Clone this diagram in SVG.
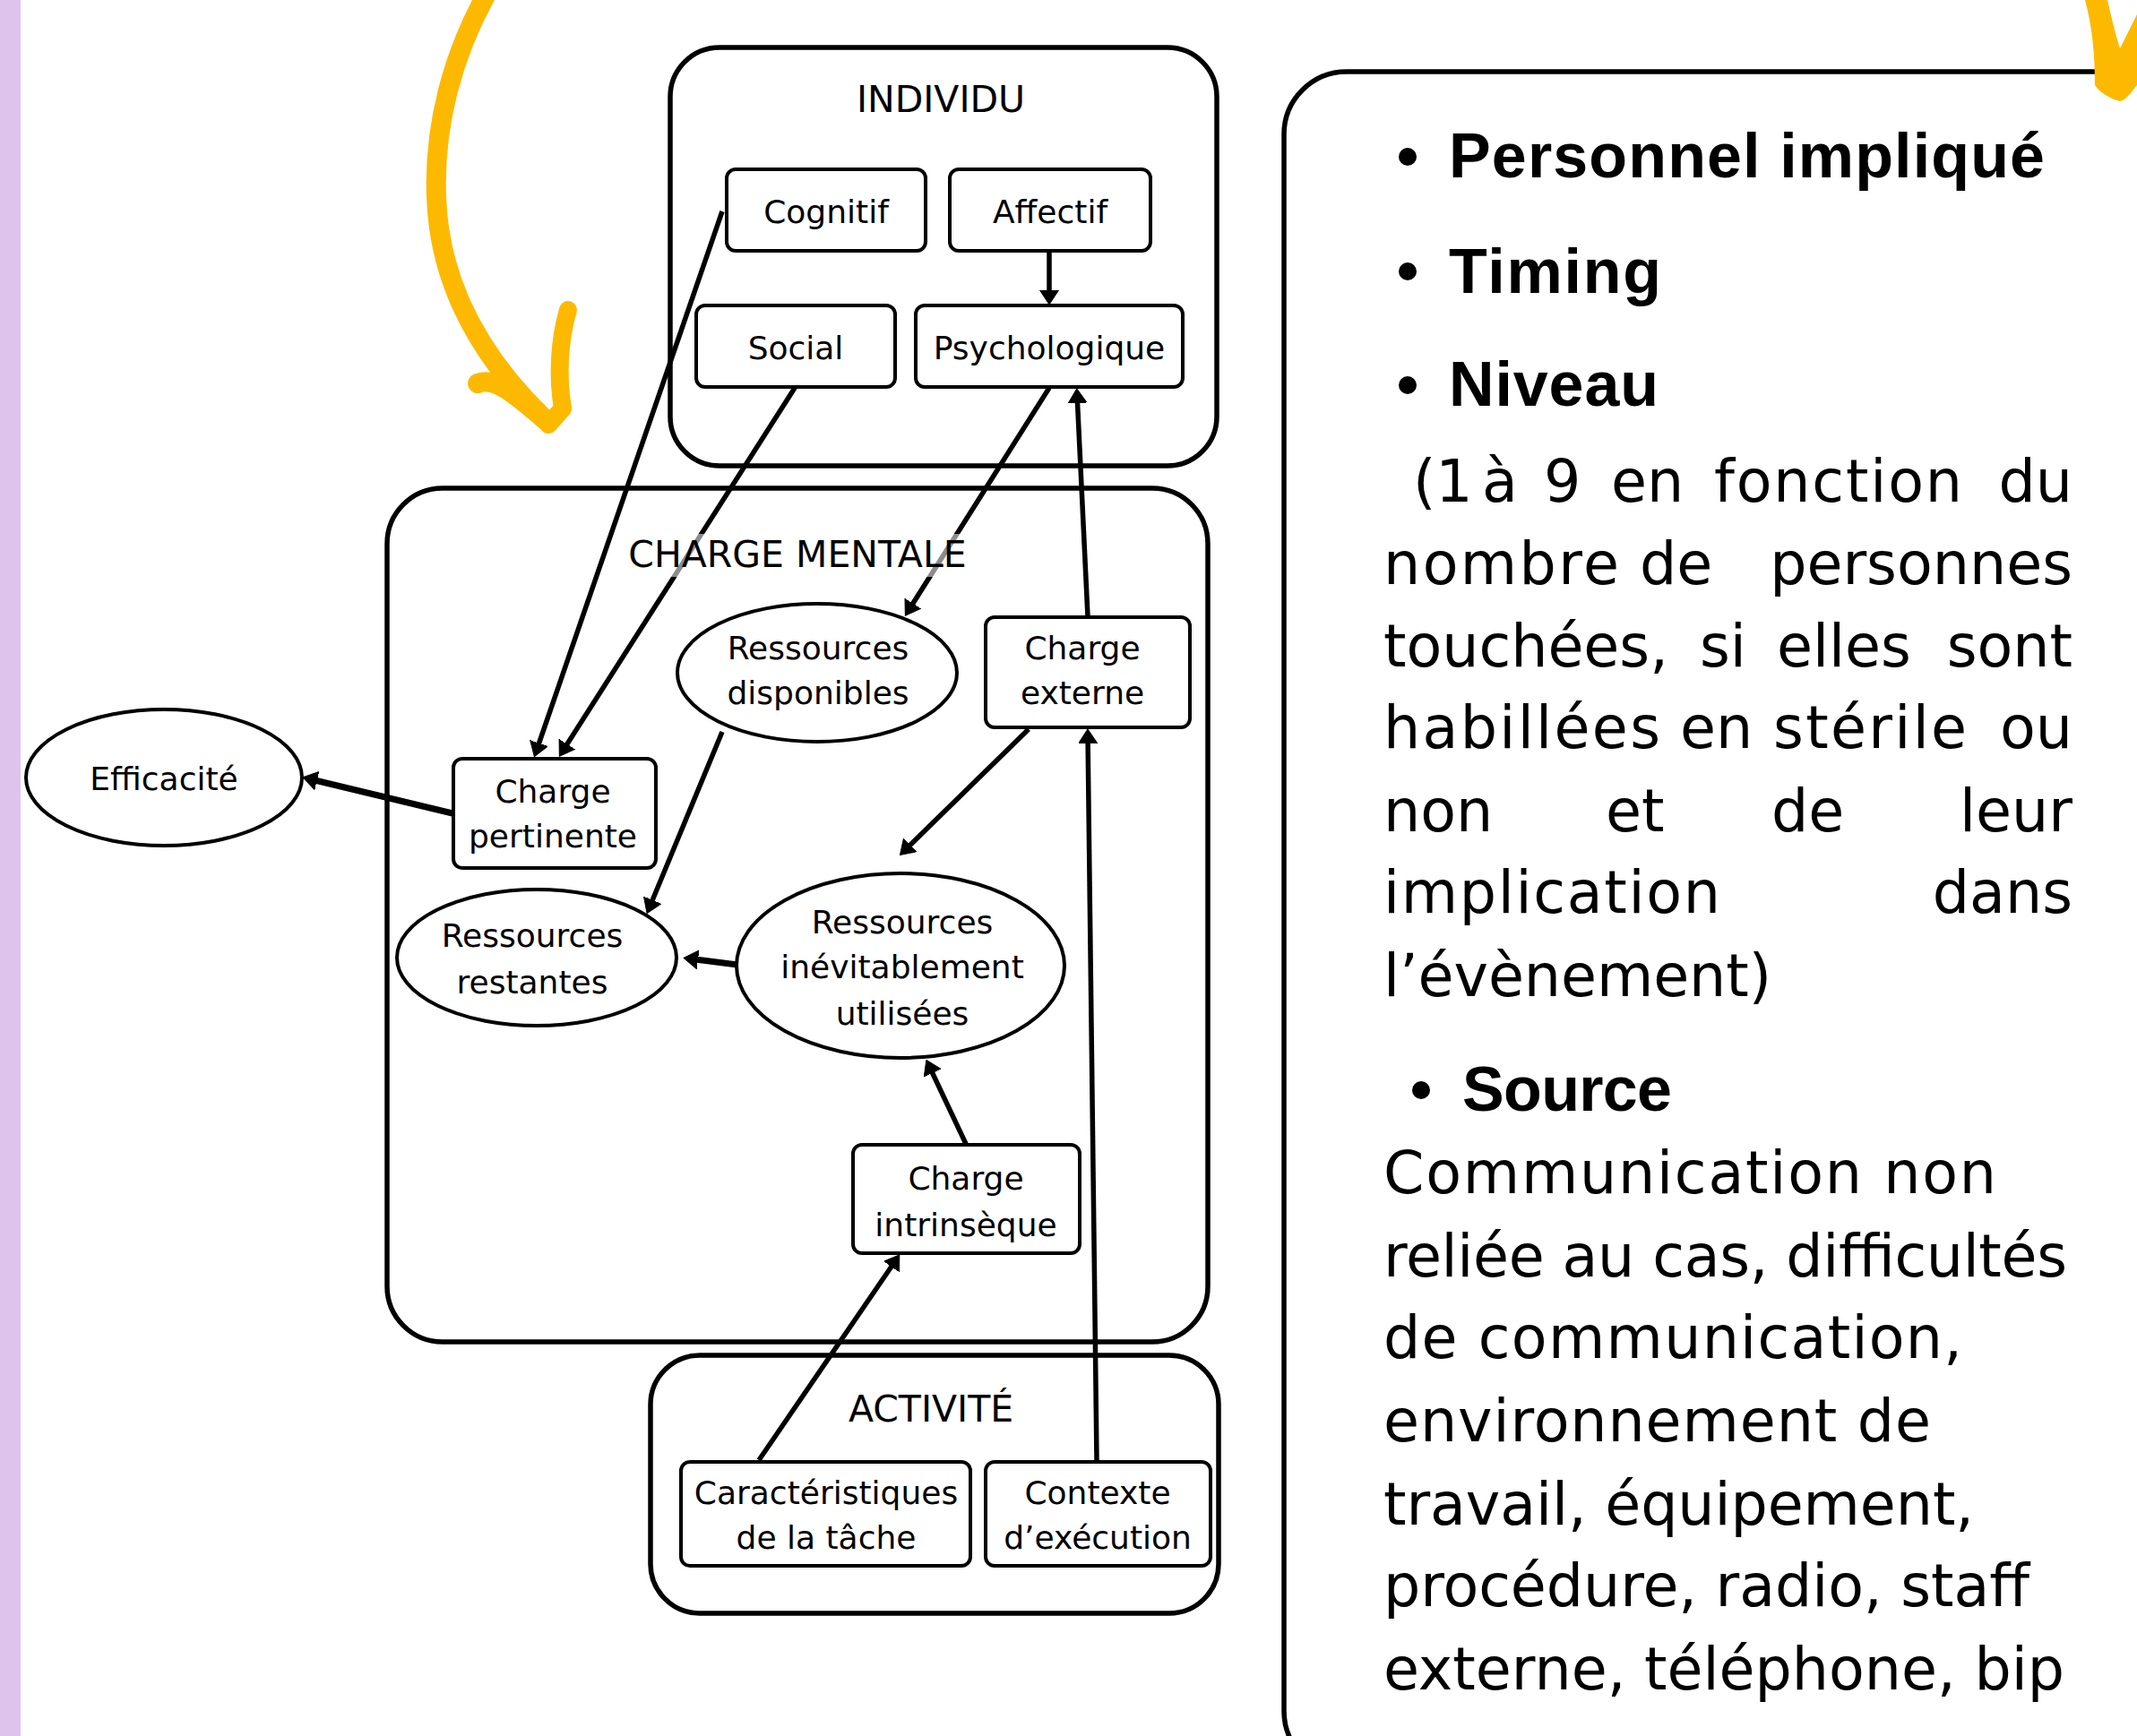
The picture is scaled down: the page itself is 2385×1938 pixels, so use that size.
<svg xmlns="http://www.w3.org/2000/svg" width="2385" height="1938" viewBox="0 0 2385 1938">
<style>
.lbl{font-family:"DejaVu Sans","Noto Sans",sans-serif;font-size:36px;fill:#000;text-anchor:middle}
.big{font-family:"DejaVu Sans","Noto Sans",sans-serif;font-size:41px;fill:#000;text-anchor:middle}
.box{fill:#fff;stroke:#000;stroke-width:4}
.cont{fill:none;stroke:#000;stroke-width:5.5}
.conn{stroke:#000;stroke-width:5.5;fill:none;marker-end:url(#ah)}
.thick{stroke-width:7}
.bold{font-family:"Liberation Sans",Arial,sans-serif;font-weight:700;font-size:70px;fill:#000}
.txt{font-family:"DejaVu Sans","Noto Sans",sans-serif;font-size:65px;fill:#000}
.yel{fill:none;stroke:#fdb900;stroke-linecap:round;stroke-linejoin:round}
</style>
<defs>
<marker id="ah" markerUnits="userSpaceOnUse" markerWidth="20" markerHeight="22" refX="11" refY="10.5" orient="auto">
<path d="M0,0 L16,10.5 L0,21 z" fill="#000" stroke="#000" stroke-width="1" stroke-linejoin="round"/>
</marker>
</defs>
<rect width="2385" height="1938" fill="#fff"/>
<rect x="0" y="0" width="23" height="1938" fill="#dec4ed"/>

<!-- containers -->
<g id="individu">
<rect class="cont" x="748" y="53" width="610" height="467" rx="55"/>
<text class="big" x="1050" y="125">INDIVIDU</text>
</g>
<g id="charge-mentale">
<rect class="cont" x="432" y="545" width="916" height="953" rx="62"/>
</g>
<g id="activite">
<rect class="cont" x="726" y="1513" width="634" height="288" rx="55"/>
<text class="big" x="1039" y="1587">ACTIVITÉ</text>
</g>

<!-- connectors -->
<g id="connectors">
<line class="conn" x1="806" y1="236" x2="598" y2="840"/>
<line class="conn" x1="887" y1="433" x2="627" y2="840"/>
<line class="conn" x1="1171" y1="433" x2="1013" y2="683"/>
<line class="conn" x1="1214" y1="688" x2="1202" y2="439"/>
<line class="conn" x1="1171" y1="280" x2="1171" y2="335"/>
<line class="conn thick" x1="505" y1="908" x2="343" y2="869"/>
<line class="conn" x1="806" y1="817" x2="724" y2="1015"/>
<line class="conn" x1="1148" y1="814" x2="1008" y2="951"/>
<line class="conn thick" x1="823" y1="1077" x2="768" y2="1070"/>
<line class="conn" x1="1078" y1="1277" x2="1036" y2="1188"/>
<line class="conn" x1="847" y1="1630" x2="1001" y2="1405"/>
<line class="conn" x1="1224" y1="1630" x2="1214" y2="819"/>
</g>

<g id="charge-mentale-label">
<rect x="688" y="596" width="404" height="48" fill="#fff" fill-opacity="0.55"/>
<text class="big" x="890" y="633">CHARGE MENTALE</text>
</g>

<!-- nodes -->
<g id="cognitif"><rect class="box" x="811" y="189" width="222" height="91" rx="10"/><text class="lbl" x="922" y="249">Cognitif</text></g>
<g id="affectif"><rect class="box" x="1060" y="189" width="224" height="91" rx="10"/><text class="lbl" x="1172" y="249">Affectif</text></g>
<g id="social"><rect class="box" x="777" y="341" width="222" height="91" rx="10"/><text class="lbl" x="888" y="401">Social</text></g>
<g id="psychologique"><rect class="box" x="1022" y="341" width="298" height="91" rx="10"/><text class="lbl" x="1171" y="401">Psychologique</text></g>

<g id="ressources-disponibles"><ellipse class="box" cx="912" cy="751" rx="156" ry="77"/><text class="lbl" x="913" y="736">Ressources</text><text class="lbl" x="913" y="786">disponibles</text></g>
<g id="charge-externe"><rect class="box" x="1100" y="689" width="228" height="123" rx="10"/><text class="lbl" x="1208" y="736">Charge</text><text class="lbl" x="1208" y="786">externe</text></g>
<g id="efficacite"><ellipse class="box" cx="183" cy="868" rx="154" ry="76"/><text class="lbl" x="183" y="882">Efficacité</text></g>
<g id="charge-pertinente"><rect class="box" x="506" y="847" width="226" height="122" rx="10"/><text class="lbl" x="617" y="896">Charge</text><text class="lbl" x="617" y="946">pertinente</text></g>
<g id="ressources-restantes"><ellipse class="box" cx="599" cy="1069" rx="156" ry="76"/><text class="lbl" x="594" y="1057">Ressources</text><text class="lbl" x="594" y="1109">restantes</text></g>
<g id="ressources-inevitablement-utilisees"><ellipse class="box" cx="1005" cy="1078" rx="183" ry="103"/><text class="lbl" x="1007" y="1042">Ressources</text><text class="lbl" x="1007" y="1092">inévitablement</text><text class="lbl" x="1007" y="1144">utilisées</text></g>
<g id="charge-intrinseque"><rect class="box" x="952" y="1278" width="253" height="121" rx="10"/><text class="lbl" x="1078" y="1328">Charge</text><text class="lbl" x="1078" y="1380">intrinsèque</text></g>
<g id="caracteristiques"><rect class="box" x="760" y="1632" width="323" height="116" rx="10"/><text class="lbl" x="922" y="1679">Caractéristiques</text><text class="lbl" x="922" y="1729">de la tâche</text></g>
<g id="contexte"><rect class="box" x="1100" y="1632" width="251" height="116" rx="10"/><text class="lbl" x="1225" y="1679">Contexte</text><text class="lbl" x="1225" y="1729">d’exécution</text></g>

<!-- right panel -->
<g id="panel">
<rect class="cont" x="1433" y="80" width="1100" height="1900" rx="70" stroke-width="6"/>
<circle cx="1571" cy="175" r="10"/>
<circle cx="1571" cy="303" r="10"/>
<circle cx="1571" cy="430" r="10"/>
<circle cx="1586" cy="1217" r="10"/>
<text class="bold" x="1617" y="198" textLength="665" lengthAdjust="spacing">Personnel impliqué</text>
<text class="bold" x="1617" y="327" textLength="237" lengthAdjust="spacing">Timing</text>
<text class="bold" x="1617" y="453" textLength="234" lengthAdjust="spacing">Niveau</text>
<text class="bold" x="1632" y="1240" textLength="234" lengthAdjust="spacing">Source</text>
<g class="txt">
<text x="1577" y="560">(1</text><text x="1654" y="560">à</text><text x="1723" y="560">9</text><text x="1798" y="560">en</text><text x="1913" y="560" textLength="277" lengthAdjust="spacing">fonction</text><text x="2313" y="560" text-anchor="end">du</text>
<text x="1544" y="652" textLength="263" lengthAdjust="spacing">nombre</text><text x="1830" y="652">de</text><text x="2313" y="652" text-anchor="end">personnes</text>
<text x="1544" y="744">touchées,</text><text x="1897" y="744">si</text><text x="1983" y="744">elles</text><text x="2313" y="744" text-anchor="end">sont</text>
<text x="1544" y="835" textLength="309" lengthAdjust="spacing">habillées</text><text x="1875" y="835">en</text><text x="1979" y="835" textLength="216" lengthAdjust="spacing">stérile</text><text x="2313" y="835" text-anchor="end">ou</text>
<text x="1544" y="928">non</text><text x="1792" y="928">et</text><text x="1977" y="928">de</text><text x="2313" y="928" text-anchor="end">leur</text>
<text x="1544" y="1019" textLength="376" lengthAdjust="spacing">implication</text><text x="2313" y="1019" text-anchor="end">dans</text>
<text x="1544" y="1112" textLength="433" lengthAdjust="spacing">l’évènement)</text>
<text x="1544" y="1332" textLength="684" lengthAdjust="spacing">Communication non</text>
<text x="1544" y="1425" textLength="763" lengthAdjust="spacing">reliée au cas, difficultés</text>
<text x="1544" y="1516" textLength="646" lengthAdjust="spacing">de communication,</text>
<text x="1544" y="1609" textLength="611" lengthAdjust="spacing">environnement de</text>
<text x="1544" y="1702" textLength="659" lengthAdjust="spacing">travail, équipement,</text>
<text x="1544" y="1793" textLength="721" lengthAdjust="spacing">procédure, radio, staff</text>
<text x="1544" y="1886" textLength="760" lengthAdjust="spacing">externe, téléphone, bip</text>
</g>
</g>

<!-- yellow arrows -->
<g id="yellow-arrow-left">
<path class="yel" stroke-width="22" d="M546,-12 C505,60 484,140 487,220 C490,310 530,392 606,466"/>
<path class="yel" stroke-width="22" d="M533,428 C552,420 575,440 612,472"/>
<path class="yel" stroke-width="20" d="M634,346 C624,380 622,420 628,456 L612,474"/>
</g>
<g id="yellow-arrow-right">
<path fill="#fdb900" d="M2327,0 L2352,0 C2357,22 2362,42 2366,54 L2385,16 L2385,95 C2378,104 2372,112 2366,113 C2355,110 2344,104 2338,95 C2338,60 2335,30 2327,0 Z"/>
</g>
</svg>
